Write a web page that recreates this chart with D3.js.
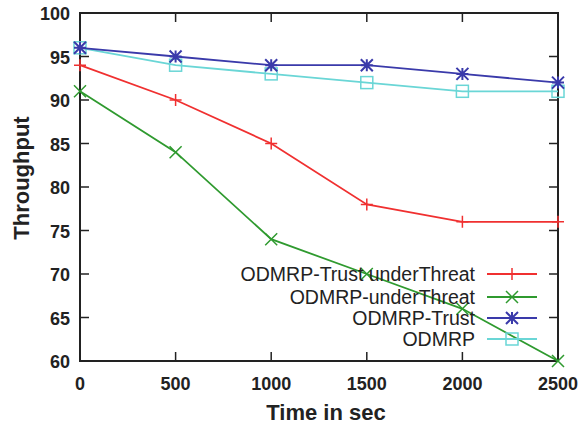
<!DOCTYPE html>
<html>
<head>
<meta charset="utf-8">
<script src="https://d3js.org/d3.v7.min.js"></script>
<style>
  body { margin: 0; background: #fff; }
  text { font-family: "Liberation Sans", Arial, sans-serif; }
</style>
</head>
<body>
<svg id="chart" width="584" height="427"></svg>
<script>
var times = [0, 500, 1000, 1500, 2000, 2500];
var seriesNames = ["ODMRP-Trust underThreat", "ODMRP-underThreat", "ODMRP-Trust", "ODMRP"];
var trustThreat = [94, 90, 85, 78, 76, 76];
var underThreat = [91, 84, 74, 70, 66, 60];
var trust = [96, 95, 94, 94, 93, 92];
var plain = [96, 94, 93, 92, 91, 91];
var xTicks = [0, 500, 1000, 1500, 2000, 2500];
var yTicks = [60, 65, 70, 75, 80, 85, 90, 95, 100];

var colors = ["#f03030", "#2f9a2f", "#3a3aaa", "#6ad6d6"];
var markers = ["plus", "cross", "star", "square"];
var allValues = [trustThreat, underThreat, trust, plain];

var svg = d3.select("#chart");
var margin = {left: 80, right: 26, top: 13, bottom: 66};
var W = 584, H = 427;
var x = d3.scaleLinear().domain([0, 2500]).range([margin.left, W - margin.right]);
var y = d3.scaleLinear().domain([60, 100]).range([H - margin.bottom, margin.top]);
var tl = 9;

// frame
svg.append("rect")
  .attr("x", x(0)).attr("y", y(100))
  .attr("width", x(2500) - x(0)).attr("height", y(60) - y(100))
  .attr("fill", "none").attr("stroke", "#222").attr("stroke-width", 2);

// ticks (inward, mirrored)
xTicks.forEach(function(t) {
  svg.append("line").attr("x1", x(t)).attr("x2", x(t)).attr("y1", y(60)).attr("y2", y(60) - tl)
    .attr("stroke", "#222").attr("stroke-width", 1.5);
  svg.append("line").attr("x1", x(t)).attr("x2", x(t)).attr("y1", y(100)).attr("y2", y(100) + tl)
    .attr("stroke", "#222").attr("stroke-width", 1.5);
  svg.append("text").attr("x", x(t)).attr("y", y(60) + 29)
    .attr("text-anchor", "middle").attr("font-size", 18).attr("font-weight", "bold")
    .attr("fill", "#222").text(t);
});
yTicks.forEach(function(t) {
  svg.append("line").attr("x1", x(0)).attr("x2", x(0) + tl).attr("y1", y(t)).attr("y2", y(t))
    .attr("stroke", "#222").attr("stroke-width", 1.5);
  svg.append("line").attr("x1", x(2500)).attr("x2", x(2500) - tl).attr("y1", y(t)).attr("y2", y(t))
    .attr("stroke", "#222").attr("stroke-width", 1.5);
  svg.append("text").attr("x", x(0) - 10).attr("y", y(t) + 7)
    .attr("text-anchor", "end").attr("font-size", 18).attr("font-weight", "bold")
    .attr("fill", "#222").text(t);
});

// axis titles
svg.append("text").attr("x", 326).attr("y", 420)
  .attr("text-anchor", "middle").attr("font-size", 22).attr("font-weight", "bold")
  .attr("fill", "#222").text("Time in sec");
svg.append("text").attr("transform", "translate(29,178) rotate(-90)")
  .attr("text-anchor", "middle").attr("font-size", 22).attr("font-weight", "bold")
  .attr("fill", "#222").text("Throughput");

function drawMarker(g, kind, cx, cy, color) {
  var s = 6;
  if (kind === "plus") {
    g.append("path").attr("d", "M" + (cx - s) + "," + cy + "H" + (cx + s) + "M" + cx + "," + (cy - s) + "V" + (cy + s))
      .attr("stroke", color).attr("stroke-width", 1.5);
  } else if (kind === "cross") {
    g.append("path").attr("d", "M" + (cx - s) + "," + (cy - s) + "L" + (cx + s) + "," + (cy + s) + "M" + (cx - s) + "," + (cy + s) + "L" + (cx + s) + "," + (cy - s))
      .attr("stroke", color).attr("stroke-width", 1.5);
  } else if (kind === "star") {
    g.append("path").attr("d", "M" + (cx - s) + "," + cy + "H" + (cx + s) + "M" + cx + "," + (cy - s) + "V" + (cy + s) +
        "M" + (cx - s) + "," + (cy - s) + "L" + (cx + s) + "," + (cy + s) + "M" + (cx - s) + "," + (cy + s) + "L" + (cx + s) + "," + (cy - s))
      .attr("stroke", color).attr("stroke-width", 2);
  } else {
    g.append("rect").attr("x", cx - s).attr("y", cy - s).attr("width", 2 * s).attr("height", 2 * s)
      .attr("fill", "none").attr("stroke", color).attr("stroke-width", 1.5);
  }
}

var line = d3.line().x(function(d, i) { return x(times[i]); }).y(function(d) { return y(d); });

for (var k = allValues.length - 1; k >= 0; k--) {
  var g = svg.append("g");
  g.append("path").datum(allValues[k]).attr("d", line)
    .attr("fill", "none").attr("stroke", colors[k]).attr("stroke-width", 1.8);
  allValues[k].forEach(function(v, i) { drawMarker(g, markers[k], x(times[i]), y(v), colors[k]); });
}

// legend
var legY = [274, 297, 318, 339];
seriesNames.forEach(function(name, k) {
  var g = svg.append("g");
  g.append("text").attr("x", 475).attr("y", legY[k] + 7).attr("text-anchor", "end")
    .attr("font-size", 19.5).attr("fill", "#222").text(name);
  g.append("line").attr("x1", 487).attr("x2", 537).attr("y1", legY[k]).attr("y2", legY[k])
    .attr("stroke", colors[k]).attr("stroke-width", 1.8);
  drawMarker(g, markers[k], 512, legY[k], colors[k]);
});
</script>
</body>
</html>
